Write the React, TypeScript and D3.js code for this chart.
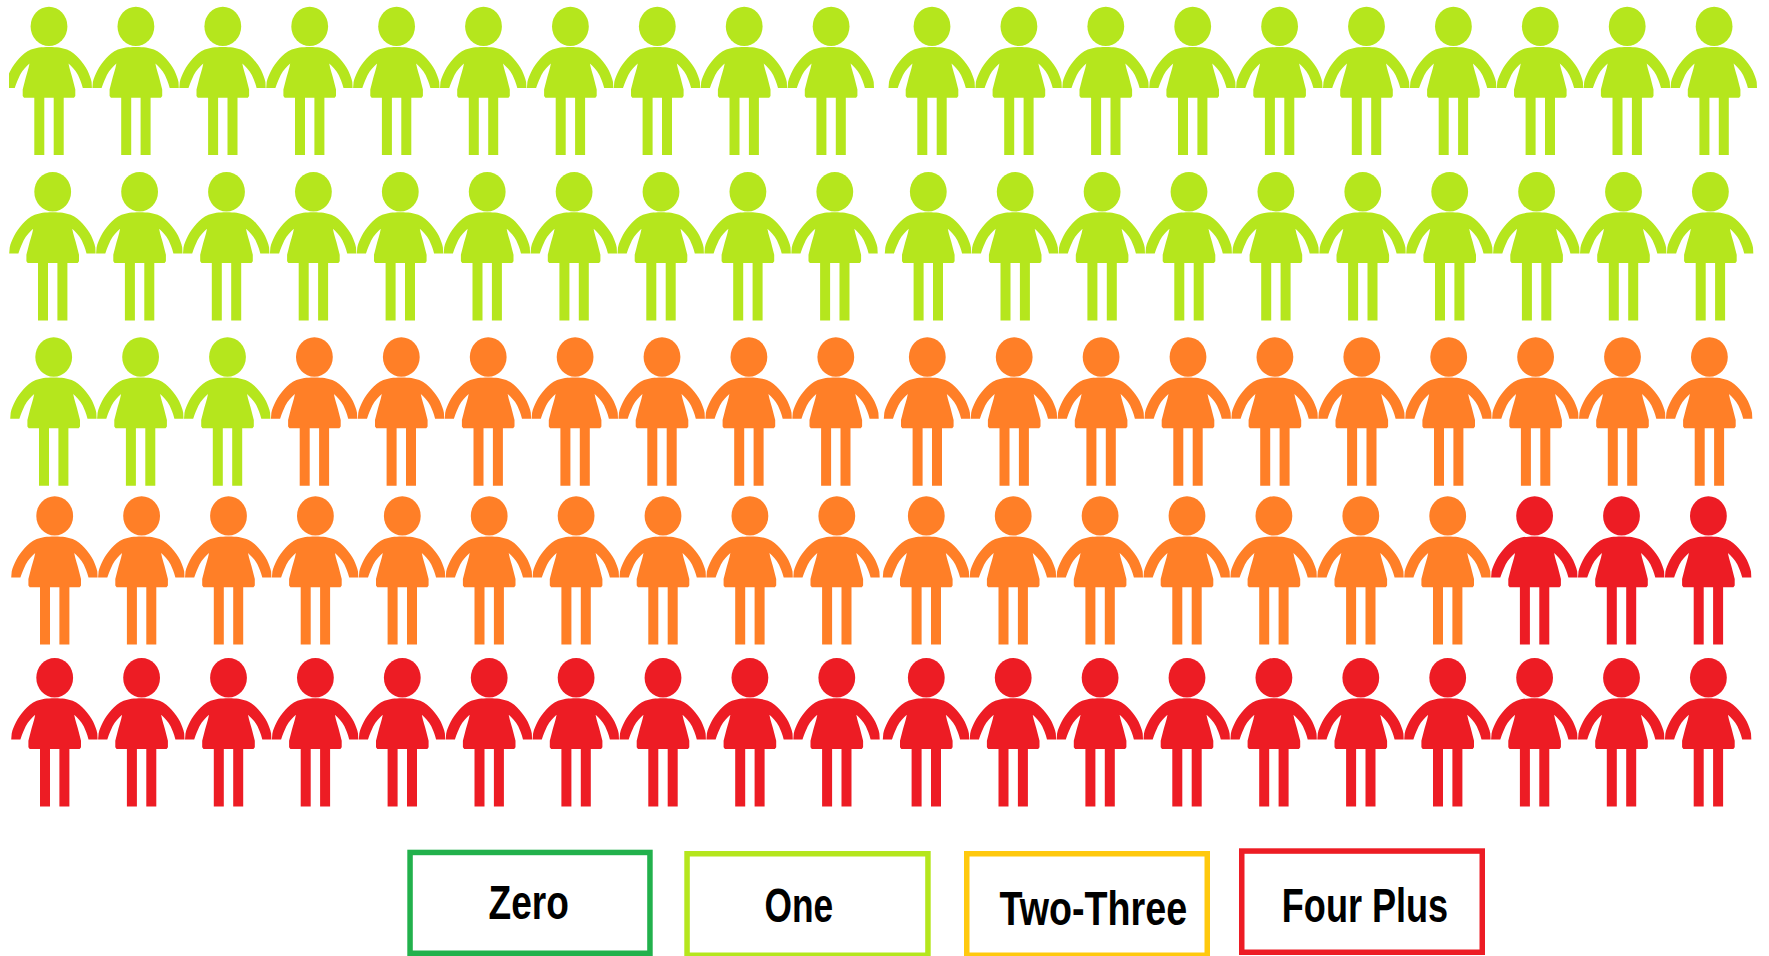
import React from 'react';
import * as d3 from 'd3';

const WIDTH = 1769;
const HEIGHT = 956;

// how many of the 100 people fall in each group
const categories = ['Zero', 'One', 'Two-Three', 'Four Plus'];
const counts = [0, 43, 34, 23];
const figureColors = ['#22b14c', '#b5e61d', '#ff7f27', '#ed1c24'];
const legendColors = ['#22b14c', '#b5e61d', '#ffc90e', '#ed1c24'];

// the picture is pasted together from strips, so every row sits a little differently
const rowHeadY = [26.4, 191.7, 357, 515.9, 677.7];
const rowBlockLeft = [49, 52.7, 53.7, 54.7, 54.7];
const rowBlockRight = [932, 928.3, 927.3, 926.3, 926.3];
const BLOCK_SPAN = 782.1;
const PER_ROW = 20;
const CROP_LEFT = 9;

const legendBoxes = [
  { x0: 407.3, x1: 652.7, y0: 849.7, y1: 956, textX0: 488.5, textX1: 568.8, baseline: 919 },
  { x0: 684.3, x1: 930.7, y0: 851, y1: 958, textX0: 764.5, textX1: 833.2, baseline: 921.7 },
  { x0: 964, x1: 1210, y0: 851, y1: 958, textX0: 999.5, textX1: 1187.2, baseline: 925 },
  { x0: 1239, x1: 1485, y0: 848.3, y1: 955, textX0: 1281.8, textX1: 1448.2, baseline: 922.3 },
];

const bodyPath = () => {
  const p = d3.path();
  p.moveTo(0, 20.5);
  // left arm
  p.bezierCurveTo(-8, 20.5, -13, 21.3, -18, 23);
  p.bezierCurveTo(-23, 25, -27, 28.5, -30, 32);
  p.bezierCurveTo(-33.5, 36, -36.5, 40, -38.5, 44);
  p.bezierCurveTo(-40.5, 48, -42.3, 52, -43, 55.7);
  p.lineTo(-43.5, 61.7);
  p.lineTo(-34.3, 61.7);
  p.bezierCurveTo(-32.5, 56, -30.5, 52, -29, 48.5);
  p.bezierCurveTo(-26.5, 43.5, -22.5, 40, -19.5, 37);
  // left side
  p.bezierCurveTo(-20.5, 43, -23, 49.5, -24, 54);
  p.lineTo(-26.3, 63);
  p.lineTo(-26.3, 69.5);
  p.lineTo(-25, 71.3);
  // legs
  p.lineTo(-14.7, 71.3);
  p.lineTo(-14.7, 128.7);
  p.lineTo(-4.7, 128.7);
  p.lineTo(-4.7, 71.3);
  p.lineTo(4.7, 71.3);
  p.lineTo(4.7, 128.7);
  p.lineTo(14.7, 128.7);
  p.lineTo(14.7, 71.3);
  // right side
  p.lineTo(25, 71.3);
  p.lineTo(26.3, 69.5);
  p.lineTo(26.3, 63);
  p.lineTo(24, 54);
  p.bezierCurveTo(23, 49.5, 20.5, 43, 19.5, 37);
  // right arm
  p.bezierCurveTo(22.5, 40, 26.5, 43.5, 29, 48.5);
  p.bezierCurveTo(30.5, 52, 32.5, 56, 33.8, 61.7);
  p.lineTo(42.9, 61.7);
  p.lineTo(42.6, 55.7);
  p.bezierCurveTo(41.9, 52, 40.3, 48, 38.5, 44);
  p.bezierCurveTo(36.5, 40, 33.5, 36, 30, 32);
  p.bezierCurveTo(27, 28.5, 23, 25, 18, 23);
  p.bezierCurveTo(13, 21.3, 8, 20.5, 0, 20.5);
  p.closePath();
  return p.toString();
};

const App = () => {
  const body = bodyPath();
  // one entry per person, coloured by group, filling the rows in reading order
  const people = counts.flatMap((n, i) => d3.range(n).map(() => i));
  const column = d3.scaleLinear().domain([0, 9]);

  return (
    <svg
      width={WIDTH}
      height={HEIGHT}
      style={{ position: 'absolute', left: 0, top: 0, background: '#fff' }}
    >
      <defs>
        {/* the first figure's hand is cut off at the picture's edge */}
        <clipPath id="crop">
          <rect x={CROP_LEFT} y={0} width={WIDTH - CROP_LEFT} height={HEIGHT} />
        </clipPath>
      </defs>

      <g clipPath="url(#crop)">
        {people.map((group, i) => {
          const row = Math.floor(i / PER_ROW);
          const col = i % PER_ROW;
          const left = col < 10 ? rowBlockLeft[row] : rowBlockRight[row];
          const x = column.range([left, left + BLOCK_SPAN])(col % 10);
          return (
            <g key={i} transform={`translate(${x},${rowHeadY[row]})`} fill={figureColors[group]}>
              <ellipse rx={18.4} ry={19.7} />
              <path d={body} />
            </g>
          );
        })}
      </g>

      {categories.map((name, i) => {
        const b = legendBoxes[i];
        return (
          <g key={name}>
            <rect
              x={b.x0 + 2.75}
              y={b.y0 + 2.75}
              width={b.x1 - b.x0 - 5.5}
              height={b.y1 - b.y0 - 5.5}
              fill="none"
              stroke={legendColors[i]}
              strokeWidth={5.5}
            />
            <text
              x={b.textX0}
              y={b.baseline}
              textLength={b.textX1 - b.textX0}
              lengthAdjust="spacingAndGlyphs"
              fontFamily="'Liberation Sans', Arial, sans-serif"
              fontWeight="bold"
              fontSize={49}
              fill="#000"
            >
              {name}
            </text>
          </g>
        );
      })}
    </svg>
  );
};

export default App;
